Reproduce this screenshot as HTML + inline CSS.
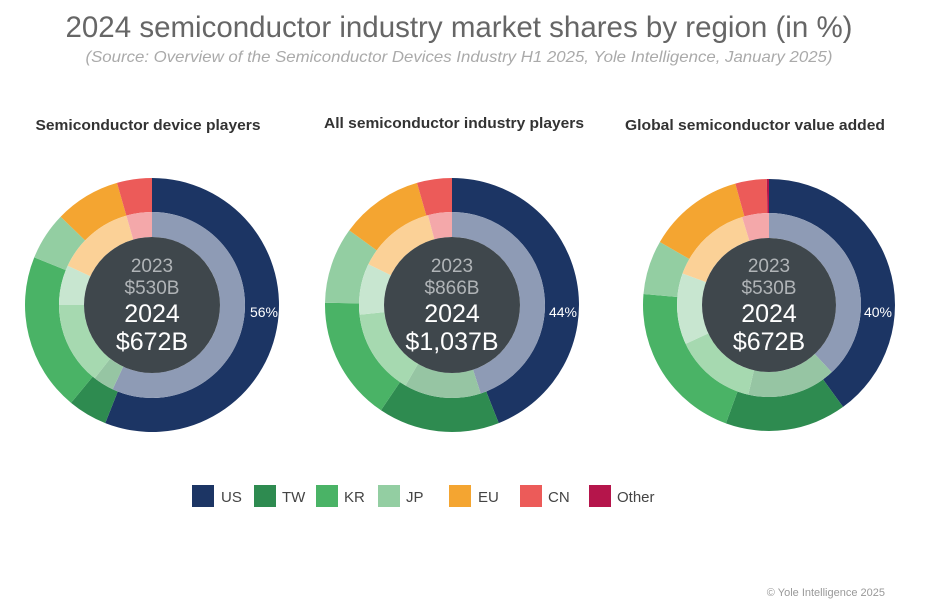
<!DOCTYPE html>
<html><head><meta charset="utf-8"><style>
body{margin:0;width:925px;height:609px;background:#fff;font-family:"Liberation Sans",sans-serif;overflow:hidden}
</style></head><body>
<svg id="s" width="925" height="609" xmlns="http://www.w3.org/2000/svg" font-family="Liberation Sans, sans-serif">
<text x="459" y="37" text-anchor="middle" font-size="29.5" fill="#666" textLength="787" lengthAdjust="spacingAndGlyphs">2024 semiconductor industry market shares by region (in %)</text>
<text x="459" y="62" text-anchor="middle" font-size="16" font-style="italic" fill="#aaa" textLength="747" lengthAdjust="spacingAndGlyphs">(Source: Overview of the Semiconductor Devices Industry H1 2025, Yole Intelligence, January 2025)</text>
<text x="148" y="130" text-anchor="middle" font-size="15" font-weight="bold" fill="#333" textLength="225" lengthAdjust="spacingAndGlyphs">Semiconductor device players</text>
<text x="454" y="128" text-anchor="middle" font-size="15" font-weight="bold" fill="#333" textLength="260" lengthAdjust="spacingAndGlyphs">All semiconductor industry players</text>
<text x="755" y="130" text-anchor="middle" font-size="15" font-weight="bold" fill="#333" textLength="260" lengthAdjust="spacingAndGlyphs">Global semiconductor value added</text>
<g id="c"></g>
<g font-size="15" fill="#444">
<rect x="192" y="485" width="22" height="22" fill="#1c3564"/><text x="221" y="502">US</text>
<rect x="254" y="485" width="22" height="22" fill="#2e8b50"/><text x="282" y="502">TW</text>
<rect x="316" y="485" width="22" height="22" fill="#4ab366"/><text x="344" y="502">KR</text>
<rect x="378" y="485" width="22" height="22" fill="#93cea2"/><text x="406" y="502">JP</text>
<rect x="449" y="485" width="22" height="22" fill="#f4a531"/><text x="478" y="502">EU</text>
<rect x="520" y="485" width="22" height="22" fill="#ec5b59"/><text x="548" y="502">CN</text>
<rect x="589" y="485" width="22" height="22" fill="#b5154b"/><text x="617" y="502">Other</text>
</g>
<text x="885" y="596" text-anchor="end" font-size="11" fill="#999">© Yole Intelligence 2025</text>
</svg>
<script>
var outerC=["#1c3564","#2e8b50","#4ab366","#93cea2","#f4a531","#ec5b59","#b5154b"];
var innerC=["#8e9bb5","#96c5a3","#a6d9b0","#c8e6d0","#fbd197","#f4a8aa","#d97a9a"];
var charts=[
{cx:152,cy:305,R:127,r1:93,r0:68,o:[201.6,219.6,292,314,344,360,360],i:[205,218,270,295,344,360,360],y23:"2023",v23:"$530B",v24:"$672B",pct:"56%",px:264},
{cx:452,cy:305,R:127,r1:93,r0:68,o:[158.4,214,271,306,344,360,360],i:[162,210,264,296,345,360,360],y23:"2023",v23:"$866B",v24:"$1,037B",pct:"44%",px:563},
{cx:769,cy:305,R:126,r1:92,r0:67,o:[144,200,275,300,344.5,359,360],i:[137,193,245,290,343,360,360],y23:"2023",v23:"$530B",v24:"$672B",pct:"40%",px:878}];
function pt(cx,cy,r,a){a=a*Math.PI/180;return [cx+r*Math.sin(a),cy-r*Math.cos(a)];}
function arc(cx,cy,r0,r1,a0,a1){if(a1-a0<0.01)return "";
var p1=pt(cx,cy,r1,a0),p2=pt(cx,cy,r1,a1),p3=pt(cx,cy,r0,a1),p4=pt(cx,cy,r0,a0),l=(a1-a0)>180?1:0;
return "M"+p1+"A"+r1+","+r1+" 0 "+l+" 1 "+p2+"L"+p3+"A"+r0+","+r0+" 0 "+l+" 0 "+p4+"Z";}
var h="";
charts.forEach(function(c){
var a=0;c.o.forEach(function(e,k){h+='<path d="'+arc(c.cx,c.cy,c.r1,c.R,a,e)+'" fill="'+outerC[k]+'"/>';a=e;});
a=0;c.i.forEach(function(e,k){h+='<path d="'+arc(c.cx,c.cy,c.r0,c.r1,a,e)+'" fill="'+innerC[k]+'"/>';a=e;});
h+='<circle cx="'+c.cx+'" cy="'+c.cy+'" r="'+c.r0+'" fill="#3f474c"/>';
h+='<text x="'+c.cx+'" y="'+(c.cy-33)+'" text-anchor="middle" font-size="19" fill="#b0b4b7">'+c.y23+'</text>';
h+='<text x="'+c.cx+'" y="'+(c.cy-11)+'" text-anchor="middle" font-size="19" fill="#b0b4b7">'+c.v23+'</text>';
h+='<text x="'+c.cx+'" y="'+(c.cy+17)+'" text-anchor="middle" font-size="25" fill="#fff">2024</text>';
h+='<text x="'+c.cx+'" y="'+(c.cy+45)+'" text-anchor="middle" font-size="25" fill="#fff">'+c.v24+'</text>';
h+='<text x="'+c.px+'" y="'+(c.cy+12)+'" text-anchor="middle" font-size="14" fill="#fff">'+c.pct+'</text>';
});
document.getElementById("c").innerHTML=h;
</script>
</body></html>
